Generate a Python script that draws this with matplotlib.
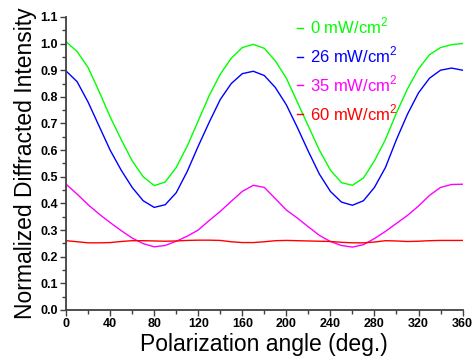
import numpy as np
import matplotlib
matplotlib.use('Agg')
import matplotlib.pyplot as plt
from matplotlib.ticker import MultipleLocator

# Polarization angle (deg.)
angle = np.arange(0, 361, 10)

# Normalized diffracted intensity, every 10 deg
i_0mw = [1.007, 0.97, 0.91, 0.82, 0.725, 0.64, 0.56, 0.50, 0.467, 0.48,
         0.535, 0.615, 0.71, 0.805, 0.885, 0.945, 0.985, 0.997, 0.982, 0.935,
         0.87, 0.78, 0.69, 0.60, 0.525, 0.478, 0.468, 0.495, 0.56, 0.64,
         0.74, 0.83, 0.905, 0.958, 0.985, 0.996, 1.0]
i_26mw = [0.897, 0.857, 0.78, 0.69, 0.60, 0.525, 0.46, 0.41, 0.385, 0.395,
          0.44, 0.52, 0.615, 0.705, 0.79, 0.85, 0.887, 0.896, 0.88, 0.835,
          0.77, 0.685, 0.595, 0.51, 0.445, 0.405, 0.393, 0.41, 0.46, 0.535,
          0.64, 0.735, 0.815, 0.87, 0.9, 0.908, 0.9]
i_35mw = [0.472, 0.435, 0.395, 0.36, 0.328, 0.298, 0.27, 0.249, 0.237, 0.242,
          0.258, 0.277, 0.30, 0.336, 0.37, 0.408, 0.445, 0.468, 0.46, 0.418,
          0.375, 0.345, 0.312, 0.28, 0.257, 0.242, 0.236, 0.245, 0.268, 0.295,
          0.325, 0.355, 0.39, 0.43, 0.46, 0.471, 0.472]
i_60mw = [0.26, 0.256, 0.252, 0.252, 0.253, 0.257, 0.26, 0.26, 0.259, 0.258,
          0.259, 0.261, 0.262, 0.262, 0.261, 0.256, 0.253, 0.253, 0.256, 0.26,
          0.261, 0.26, 0.259, 0.258, 0.257, 0.254, 0.252, 0.252, 0.255, 0.26,
          0.259, 0.257, 0.258, 0.26, 0.261, 0.261, 0.261]

series = [i_0mw, i_26mw, i_35mw, i_60mw]
labels = [r'0 mW/cm$^\mathregular{2}$', r'26 mW/cm$^\mathregular{2}$',
          r'35 mW/cm$^\mathregular{2}$', r'60 mW/cm$^\mathregular{2}$']
colors = ['#00ff00', '#0000ff', '#ff00ff', '#ff0000']

plt.rcParams['font.family'] = ['Liberation Sans', 'DejaVu Sans']

fig = plt.figure(figsize=(4.72, 3.6), dpi=100)
ax = fig.add_axes([0.14, 0.139, 0.84, 0.814])

for y, lab, c in zip(series, labels, colors):
    ax.plot(angle, y, color=c, lw=1.0, label=lab)

ax.set_xlim(0, 360)
ax.set_ylim(0, 1.1)
ax.xaxis.set_major_locator(MultipleLocator(40))
ax.xaxis.set_minor_locator(MultipleLocator(20))
ax.yaxis.set_major_locator(MultipleLocator(0.1))
ax.yaxis.set_minor_locator(MultipleLocator(0.05))
ax.yaxis.set_major_formatter(plt.FormatStrFormatter('%.1f'))

for s in ['top', 'right']:
    ax.spines[s].set_visible(False)
for s in ['left', 'bottom']:
    ax.spines[s].set_linewidth(1.3)
    ax.spines[s].set_color('#404040')

ax.tick_params(which='major', direction='out', length=4, width=1, color='#404040',
               labelsize=9, pad=2)
ax.tick_params(which='minor', direction='out', length=3, width=1, color='#404040')
for t in ax.get_xticklabels() + ax.get_yticklabels():
    t.set_fontweight('bold')

ax.set_xlabel('Polarization angle (deg.)', fontsize=16.5, labelpad=2)
ax.set_ylabel('Normalized Diffracted Intensity', fontsize=16.5, labelpad=2)

leg = ax.legend(loc='upper left', bbox_to_anchor=(0.545, 1.055), frameon=False,
                handlelength=0.35, handletextpad=0.45, labelspacing=0.5,
                fontsize=12, labelcolor='linecolor')

fig.savefig('out.png', dpi=100)
